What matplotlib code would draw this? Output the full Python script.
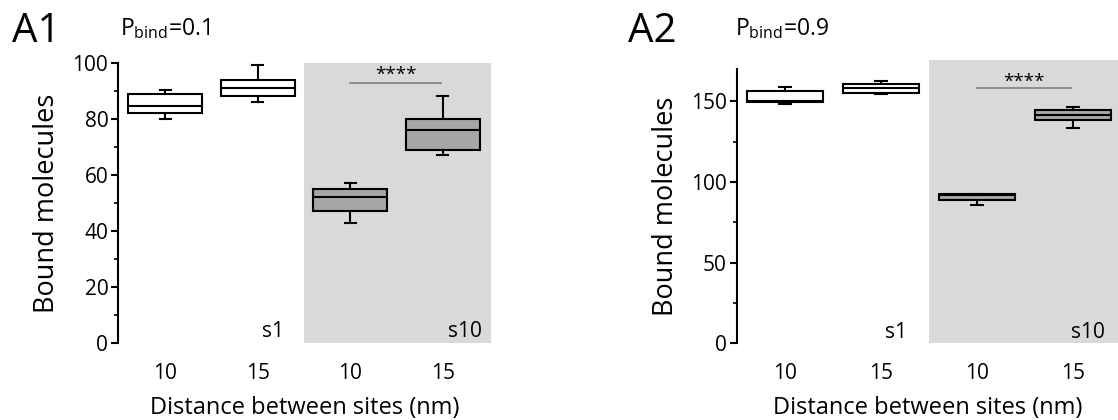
import matplotlib
matplotlib.use("Agg")
import matplotlib.pyplot as plt
from matplotlib.ticker import MultipleLocator

plt.rcParams['font.family'] = ['Open Sans', 'DejaVu Sans']
plt.rcParams['mathtext.fontset'] = 'custom'
plt.rcParams['mathtext.rm'] = 'Open Sans'

# ---- data ----
tick_labels = ["10", "15", "10", "15"]
group_labels = ["s1", "s10"]

# panel A1 (P_bind = 0.1): whislo, q1, med, q3, whishi
a1_whislo = [80, 86.2, 43, 67]
a1_q1 = [82, 88.2, 47.1, 69.1]
a1_med = [84.6, 91.1, 52.1, 76.1]
a1_q3 = [89, 94.1, 54.9, 80.1]
a1_whishi = [90.2, 99.2, 57.2, 88.2]

# panel A2 (P_bind = 0.9)
a2_whislo = [148, 154.2, 85.6, 133.1]
a2_q1 = [149.4, 155.2, 88.7, 138.1]
a2_med = [150, 158.1, 92, 141.2]
a2_q3 = [156.2, 160.8, 92.8, 144.3]
a2_whishi = [158.7, 162.4, 92.8, 146.3]

W, H = 1118, 420
fig = plt.figure(figsize=(W / 100, H / 100), dpi=100)


def px_axes(left, right, top, bottom):
    return fig.add_axes([left / W, 1 - bottom / H, (right - left) / W, (bottom - top) / H])


def draw_panel(ax, whislo, q1, med, q3, whishi, ylim, major, minor, xlim,
               shade_top, sig_y, star_y, s1_x, s10_x, s_y):
    ax.set_xlim(*xlim)
    ax.set_ylim(*ylim)
    ax.axvspan(2.5, xlim[1], ymin=0, ymax=shade_top, color='#d9d9d9', lw=0,
               zorder=0, clip_on=False)
    stats = []
    for i in range(4):
        stats.append(dict(whislo=whislo[i], q1=q1[i], med=med[i], q3=q3[i],
                          whishi=whishi[i], fliers=[]))
    bp = ax.bxp(stats, positions=[1, 2, 3, 4], widths=0.8, patch_artist=True,
                showfliers=False, capwidths=0.12,
                boxprops=dict(linewidth=1.5, edgecolor='black'),
                medianprops=dict(color='black', linewidth=1.5),
                whiskerprops=dict(color='black', linewidth=1.5),
                capprops=dict(color='black', linewidth=1.5))
    for i, patch in enumerate(bp['boxes']):
        patch.set_facecolor('white' if i < 2 else '#a6a6a6')
    for k in ['top', 'right', 'bottom']:
        ax.spines[k].set_visible(False)
    ax.spines['left'].set_linewidth(1.5)
    ax.yaxis.set_major_locator(MultipleLocator(major))
    ax.yaxis.set_minor_locator(MultipleLocator(minor))
    ax.tick_params(axis='y', which='major', length=5, width=1.5, labelsize=15, pad=2)
    ax.tick_params(axis='y', which='minor', length=3, width=1.2)
    ax.set_xticks([1, 2, 3, 4])
    ax.set_xticklabels(tick_labels)
    ax.tick_params(axis='x', length=0, labelsize=15, pad=14)
    ax.set_xlabel("Distance between sites (nm)", fontsize=17, labelpad=9)
    ax.set_ylabel("Bound molecules", fontsize=19.5, labelpad=8)
    ax.plot([3, 3.98], [sig_y, sig_y], color='#808080', lw=1.2)
    ax.text(3.49, star_y, "****", ha='center', va='center', fontsize=13.5)
    ax.text(s1_x, s_y, group_labels[0], ha='right', va='baseline', fontsize=15)
    ax.text(s10_x, s_y, group_labels[1], ha='right', va='baseline', fontsize=15)
    ax.patch.set_alpha(0)


ax1 = px_axes(118, 491, 63, 343.3)
draw_panel(ax1, a1_whislo, a1_q1, a1_med, a1_q3, a1_whishi, (0, 100), 20, 10,
           (0.49, 4.52), 1.0, 93, 95.6, 2.28, 4.42, 2.4)

ax2 = px_axes(736.7, 1118, 68.9, 343.3)
draw_panel(ax2, a2_whislo, a2_q1, a2_med, a2_q3, a2_whishi, (0, 170), 50, 25,
           (0.497, 4.47), 175.5 / 170, 158, 162, 2.27, 4.33, 3.3)

fig.text(12 / W, 1 - 42 / H, "A1", fontsize=29, ha='left', va='baseline')
fig.text(120 / W, 1 - 35 / H, r"P$_{\mathrm{bind}}$=0.1", fontsize=16.5, ha='left', va='baseline')
fig.text(628 / W, 1 - 42 / H, "A2", fontsize=29, ha='left', va='baseline')
fig.text(735 / W, 1 - 35 / H, r"P$_{\mathrm{bind}}$=0.9", fontsize=16.5, ha='left', va='baseline')

fig.savefig("out.png", dpi=100)
